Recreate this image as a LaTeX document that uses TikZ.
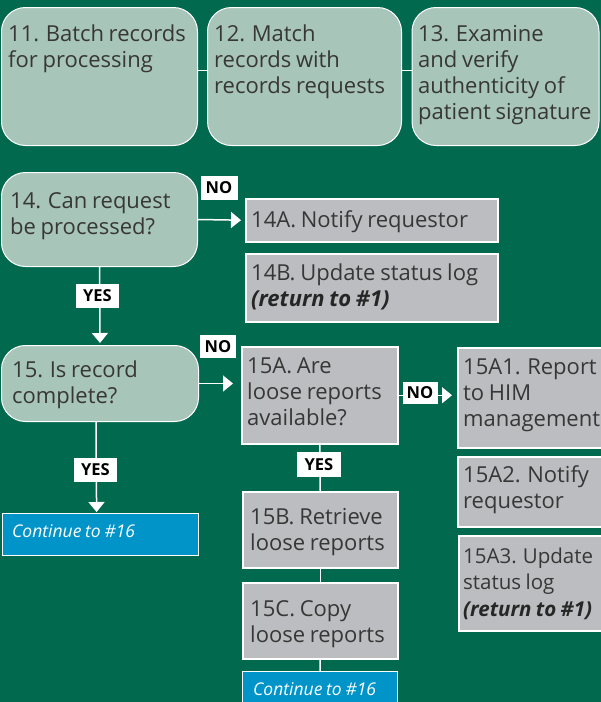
\documentclass[tikz,border=0pt]{standalone}
\usepackage{fontspec}
\setmainfont[WordSpace=0.82]{Open Sans}
\usetikzlibrary{arrows.meta,calc}
\definecolor{bgc}{RGB}{0,105,78}
\definecolor{greenbox}{RGB}{168,197,185}
\definecolor{greybox}{RGB}{188,189,192}
\definecolor{bluebox}{RGB}{0,148,200}
\definecolor{txtc}{RGB}{55,55,55}
\newcommand\mlines[1]{\parbox[t]{320pt}{\raggedright #1}}
\newcommand\rettxt{\textcolor{black!85}{\bfseries\itshape (return to \#1)}}
\begin{document}
\begin{tikzpicture}[x=1pt,y=-1pt,
  gbox/.style={draw=white, line width=1pt, fill=greenbox, rounded corners=24pt, inner sep=0pt, anchor=north west},
  gybox/.style={draw=white, line width=1.5pt, fill=greybox, inner sep=0pt, anchor=north west},
  bbox/.style={draw=white, line width=1.2pt, fill=bluebox, inner sep=0pt, anchor=north west},
  txt/.style={anchor=base west, inner sep=0pt, text=txtc, font=\fontsize{22}{26}\selectfont},
  ctxt/.style={anchor=base west, inner sep=0pt, text=white, font=\itshape\fontsize{17.5}{20}\selectfont},
  lbl/.style={fill=white, text=black, font=\bfseries\fontsize{16.5}{16.5}\selectfont, inner sep=0pt, minimum height=24pt},
  conn/.style={draw=white, line width=1.5pt},
  arr/.style={conn, -{Triangle[width=16pt,length=10pt]}}]
\useasboundingbox (0,0) rectangle (601,702);
\fill[bgc] (0,0) rectangle (601,702);
% top row
\node[gbox, minimum width=196pt, minimum height=138pt] (b11) at (1,7) {};
\node[gbox, minimum width=194pt, minimum height=138pt] (b12) at (207,7) {};
\node[gbox, minimum width=187pt, minimum height=138pt] (b13) at (411.5,7) {};
\draw[conn] ([yshift=6pt]b11.east) -- ([yshift=6pt]b12.west);
\draw[conn] ([yshift=6pt]b12.east) -- ([yshift=6pt]b13.west);
\node[txt] (t11) at (8,41) {\mlines{11. Batch records\\for processing}};
\node[txt] (t12) at (214,41) {\mlines{12. Match\\records with\\records requests}};
\node[txt] (t13) at (418,41) {\mlines{13. Examine\\and verify\\authenticity of\\patient signature}};
% 14
\node[gbox, minimum width=196pt, minimum height=94pt] (b14) at (1,172) {};
\node[gybox, minimum width=252pt, minimum height=43pt] (a14) at (245,198) {};
\node[gybox, minimum width=252pt, minimum height=68pt] (bb14) at (245,253) {};
\node[txt] (t14) at (10,208) {\mlines{14. Can request\\be processed?}};
\node[txt] (t14a) at (251,227) {\mlines{14A. Notify requestor}};
\node[txt] (t14b) at (251,280) {\mlines{14B. Update status log\\\rettxt}};
% 15
\node[gbox, minimum width=197pt, minimum height=76pt] (b15) at (1,345) {};
\node[gybox, minimum width=156pt, minimum height=97pt] (a15) at (241,346) {};
\node[gybox, minimum width=160pt, minimum height=100pt] (a151) at (457,347) {};
\node[gybox, minimum width=160pt, minimum height=70pt] (a152) at (457,456) {};
\node[gybox, minimum width=160pt, minimum height=95pt] (a153) at (458,535) {};
\node[gybox, minimum width=155pt, minimum height=76pt] (b15b) at (242,491) {};
\node[gybox, minimum width=155pt, minimum height=76pt] (b15c) at (242,582) {};
\node[bbox, minimum width=196pt, minimum height=42pt] (c1) at (2,513) {};
\node[bbox, minimum width=155pt, minimum height=45pt] (c2) at (242,671) {};
\node[txt] (t15) at (12,377) {\mlines{15. Is record\\complete?}};
\node[txt] (t15a) at (247,373) {\mlines{15A. Are\\loose reports\\available?}};
\node[txt] (t151) at (463,374) {\mlines{15A1. Report\\to HIM\\management}};
\node[txt] (t152) at (463,482) {\mlines{15A2. Notify\\requestor}};
\node[txt, font=\fontsize{20.5}{26.5}\selectfont] (t153) at (463,563) {\mlines{15A3. Update\\status log\\\rettxt}};
\node[txt] (t15b) at (250,524) {\mlines{15B. Retrieve\\loose reports}};
\node[txt] (t15c) at (250,616) {\mlines{15C. Copy\\loose reports}};
\node[ctxt] (tc1) at (12,537) {Continue to \#16};
\node[ctxt] (tc2) at (253,695) {Continue to \#16};
% connectors
\draw[arr, shorten >=4pt] (b14.east) -- (a14.west);
\node[lbl, minimum width=37pt] (n14) at (219,188) {NO};
\draw[arr, shorten >=2pt] (b14.south) -- (b15.north);
\node[lbl, minimum width=43pt] (y14) at (97.5,296) {YES};
\draw[arr, shorten >=8pt] (b15.east) -- (b15.east -| a15.west);
\node[lbl, minimum width=36pt, minimum height=23pt] (n15) at (218,346.5) {NO};
\draw[arr, shorten >=5pt] (a15.east) -- (a15.east -| a151.west);
\node[lbl, minimum width=35pt, minimum height=22pt] (n15a) at (420,393) {NO};
\draw[arr, shorten >=1pt] ([xshift=-4pt]b15.south) -- ([xshift=-4pt]c1.north);
\node[lbl, minimum width=43pt] (y15) at (95.5,470) {YES};
\draw[conn] (a15.south) -- (b15b.north);
\node[lbl, minimum width=44pt, minimum height=25pt] (y15a) at (319,464.5) {YES};
\draw[conn] (b15b.south) -- (b15c.north);
\draw[conn] (b15c.south) -- (c2.north);
\end{tikzpicture}
\end{document}
